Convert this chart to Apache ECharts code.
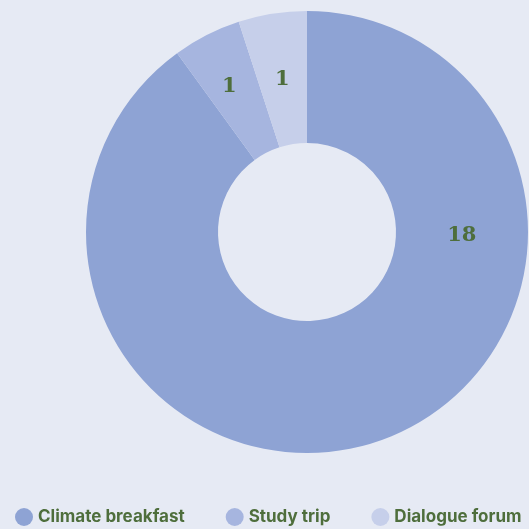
<!DOCTYPE html>
<html><head><meta charset="utf-8">
<script src="https://cdn.jsdelivr.net/npm/echarts@6/dist/echarts.min.js"></script>
<style>html,body{margin:0;padding:0;background:#e6eaf4;}#c{width:529px;height:529px;}</style>
</head><body><div id="c"></div>
<script>
const categories = ["Climate breakfast", "Study trip", "Dialogue forum"];
const values = [18, 1, 1];
const colors = ["#8ea3d4", "#a6b5df", "#c6cfea"];
const chart = echarts.init(document.getElementById('c'));
chart.setOption({
  backgroundColor: '#e6eaf4',
  animation: false,
  color: colors,
  legend: {
    orient: 'horizontal', left: 10, top: 503,
    icon: 'circle', itemWidth: 18, itemHeight: 18, itemGap: 41,
    textStyle: { color: '#4e6e3c', fontSize: 17, fontWeight: 'bold', fontFamily: 'Inter' },
    data: categories
  },
  series: [{
    type: 'pie',
    center: [307, 232],
    radius: [89, 221],
    startAngle: 90,
    clockwise: true,
    label: { show: true, position: 'inside', formatter: '{c}', color: '#4e6e3c', fontSize: 21, fontWeight: 'bold', fontFamily: 'DejaVu Serif' },
    labelLine: { show: false },
    labelLayout: function (p) { return p.dataIndex === 0 ? { dx: 106, dy: -147 } : (p.dataIndex === 1 ? { dx: -6, dy: -5 } : {dx: 0, dy: 4}); },
    itemStyle: { borderWidth: 0 },
    emphasis: { disabled: true },
    data: categories.map((n, i) => ({ name: n, value: values[i] }))
  }]
});
</script></body></html>
